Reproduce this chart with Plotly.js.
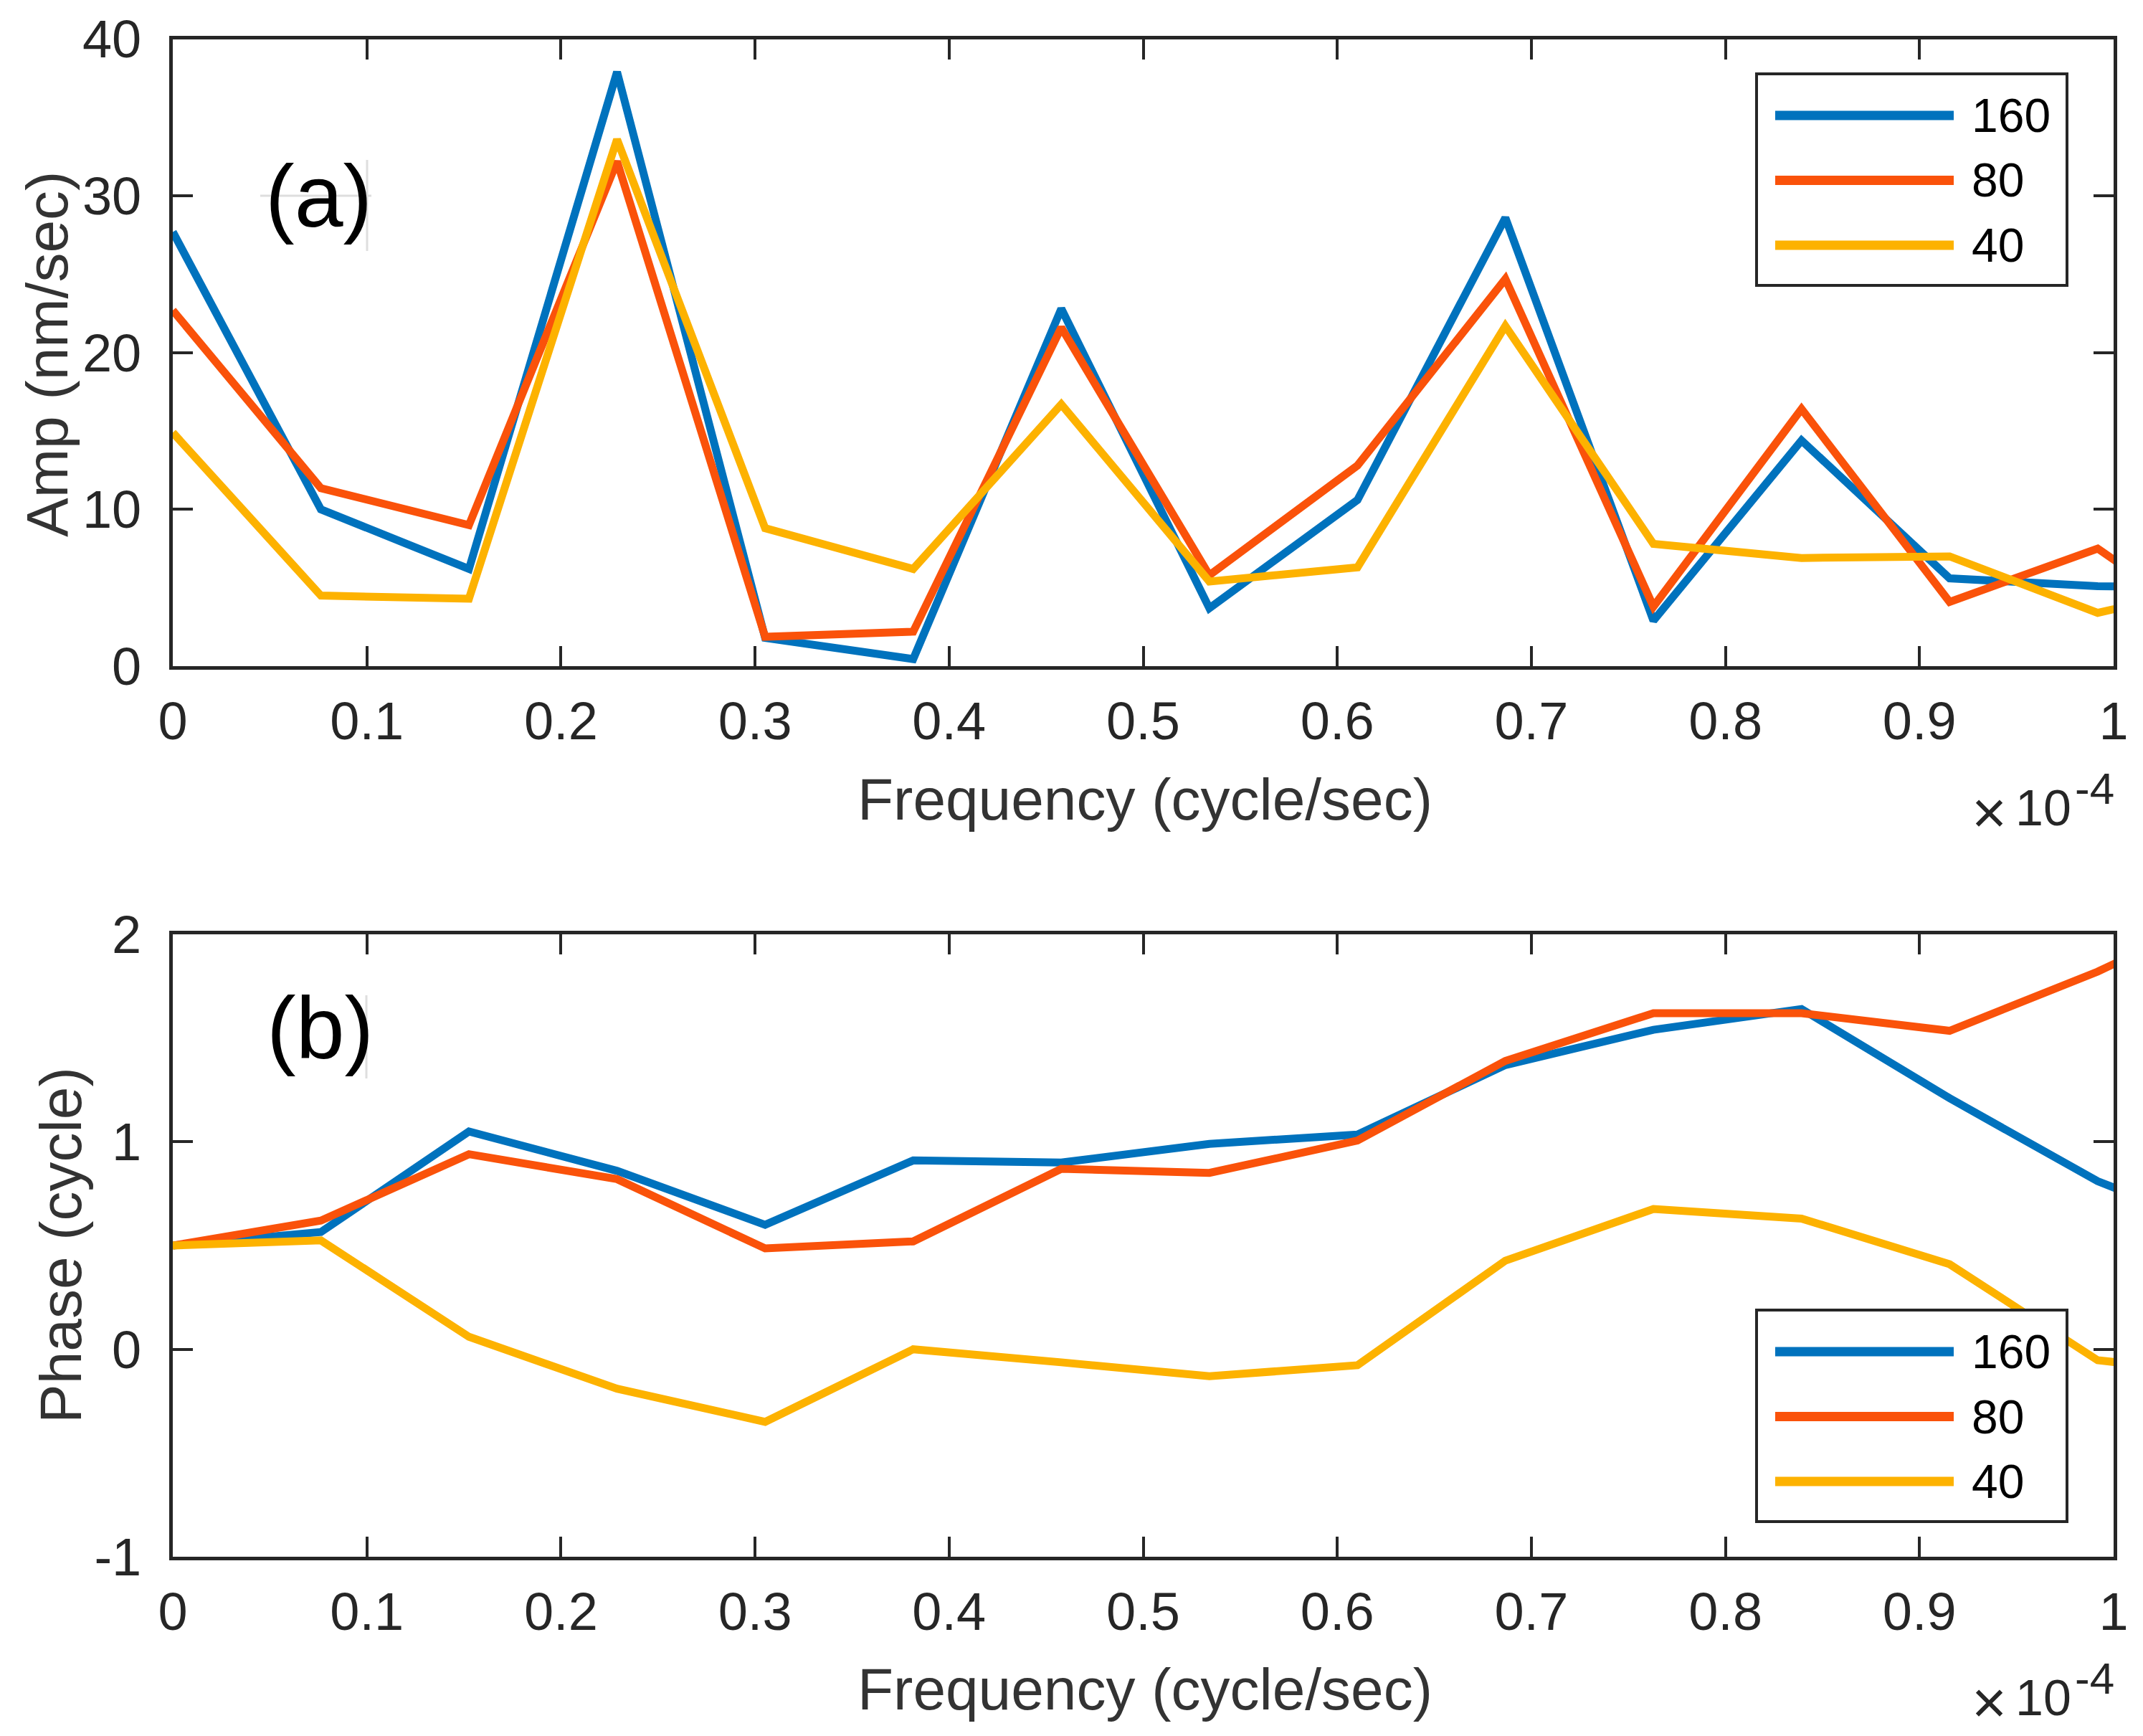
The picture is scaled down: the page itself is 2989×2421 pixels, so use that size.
<!DOCTYPE html>
<html>
<head>
<meta charset="utf-8">
<script src="https://cdn.plot.ly/plotly-3.0.1.min.js"></script>
<style>html,body{margin:0;padding:0;background:#fff;}#chart{width:2989px;height:2421px;}</style>
</head>
<body>
<div id="chart"></div>
<script>
// ---- data (frequency in units of 1e-4 cycle/sec) ----
const freq = [0, 0.0763, 0.1526, 0.2289, 0.3052, 0.3815, 0.4578, 0.5341, 0.6104, 0.6866, 0.7629, 0.8392, 0.9155, 0.9918, 1.0681];

const amp160 = [27.7, 10.0, 6.2, 37.9, 1.8, 0.45, 22.8, 3.7, 10.6, 28.6, 2.9, 14.4, 5.6, 5.1, 5.0];
const amp80  = [22.7, 11.35, 9.0, 32.2, 1.87, 2.2, 21.6, 5.8, 12.8, 24.7, 3.8, 16.4, 4.1, 7.5, 1.0];
const amp40  = [14.9, 4.5, 4.3, 33.6, 8.8, 6.2, 16.7, 5.4, 6.3, 21.7, 7.8, 6.9, 7.0, 3.4, 5.5];

const phase160 = [0.5, 0.565, 1.05, 0.86, 0.60, 0.91, 0.90, 0.99, 1.035, 1.37, 1.54, 1.64, 1.21, 0.81, 0.53];
const phase80  = [0.5, 0.62, 0.94, 0.82, 0.486, 0.52, 0.87, 0.85, 1.006, 1.39, 1.62, 1.62, 1.535, 1.82, 2.16];
const phase40  = [0.5, 0.525, 0.06, -0.19, -0.35, 0.0, -0.063, -0.13, -0.077, 0.427, 0.676, 0.63, 0.41, -0.053, -0.13];

const seriesNames = ['160', '80', '40'];
const xTickVals = [0, 0.1, 0.2, 0.3, 0.4, 0.5, 0.6, 0.7, 0.8, 0.9, 1];
const xTickText = ['0', '0.1', '0.2', '0.3', '0.4', '0.5', '0.6', '0.7', '0.8', '0.9', '1'];
const ampTickVals = [0, 10, 20, 30, 40];
const ampTickText = ['0', '10', '20', '30', '40'];
const phaseTickVals = [-1, 0, 1, 2];
const phaseTickText = ['-1', '0', '1', '2'];

// ---- styling ----
const W = 2989, H = 2421;
const px = v => v / W;
const py = v => 1 - v / H;
const colors = ['#0072BD', '#FA520A', '#FDB200'];
const FONT = 'Liberation Sans, Arial, Helvetica, sans-serif';
const AX = '#262626';
const LW = 11;

const ampSeries = [amp160, amp80, amp40];
const phaseSeries = [phase160, phase80, phase40];

const traces = [];
ampSeries.forEach((ys, i) => traces.push({
  x: freq, y: ys, type: 'scatter', mode: 'lines', name: seriesNames[i],
  line: {color: colors[i], width: LW}, xaxis: 'x', yaxis: 'y', showlegend: false, hoverinfo: 'skip'
}));
phaseSeries.forEach((ys, i) => traces.push({
  x: freq, y: ys, type: 'scatter', mode: 'lines', name: seriesNames[i],
  line: {color: colors[i], width: LW}, xaxis: 'x2', yaxis: 'y2', showlegend: false, hoverinfo: 'skip'
}));

const xDomain = [px(241), px(2948)];
const baseAxis = {
  showline: true, linecolor: AX, linewidth: 5, mirror: 'ticks',
  ticks: 'inside', ticklen: 28, tickwidth: 4, tickcolor: AX,
  showgrid: false, zeroline: false, fixedrange: true,
  tickfont: {family: FONT, size: 74, color: AX}
};
const xAxisCommon = Object.assign({}, baseAxis, {
  range: [0, 1], tickmode: 'array', tickvals: xTickVals, ticktext: xTickText,
  domain: xDomain, ticklabelstandoff: 8
});

// ---- legends, labels ----
const shapes = [];
const annotations = [];

function addLegend(boxTop) {
  shapes.push({type: 'rect', xref: 'paper', yref: 'paper',
    x0: px(2450), x1: px(2883), y0: py(boxTop), y1: py(boxTop + 295),
    fillcolor: '#ffffff', line: {color: AX, width: 4}, layer: 'above'});
  seriesNames.forEach((nm, i) => {
    const yy = boxTop + 58 + i * 90.5;
    shapes.push({type: 'line', xref: 'paper', yref: 'paper',
      x0: px(2476), x1: px(2725), y0: py(yy), y1: py(yy),
      line: {color: colors[i], width: 13}, layer: 'above'});
    annotations.push({xref: 'paper', yref: 'paper', x: px(2748), y: py(yy),
      xanchor: 'left', yanchor: 'middle', showarrow: false, text: nm,
      font: {family: FONT, size: 66, color: '#000'}});
  });
}
addLegend(103);
addLegend(1827);

// panel labels with faint guide lines (as in the source figure)
shapes.push({type: 'line', xref: 'paper', yref: 'paper', x0: px(363), x1: px(518), y0: py(273), y1: py(273), line: {color: '#dedede', width: 3}, layer: 'above'});
shapes.push({type: 'line', xref: 'paper', yref: 'paper', x0: px(512), x1: px(512), y0: py(223), y1: py(350), line: {color: '#dedede', width: 3}, layer: 'above'});
shapes.push({type: 'line', xref: 'paper', yref: 'paper', x0: px(511), x1: px(511), y0: py(1388), y1: py(1504), line: {color: '#dedede', width: 3}, layer: 'above'});

annotations.push({xref: 'paper', yref: 'paper', x: px(444), y: py(274), xanchor: 'center', yanchor: 'middle',
  showarrow: false, text: '(a)', font: {family: FONT, size: 122, color: '#000'}});
annotations.push({xref: 'paper', yref: 'paper', x: px(446), y: py(1434), xanchor: 'center', yanchor: 'middle',
  showarrow: false, text: '(b)', font: {family: FONT, size: 122, color: '#000'}});

// axis titles
const TITLE_FS = 82, TITLE_C = '#333333';
annotations.push({xref: 'paper', yref: 'paper', x: px(1597), y: py(1114), xanchor: 'center', yanchor: 'middle',
  showarrow: false, text: 'Frequency (cycle/sec)', font: {family: FONT, size: TITLE_FS, color: TITLE_C}});
annotations.push({xref: 'paper', yref: 'paper', x: px(1597), y: py(2355), xanchor: 'center', yanchor: 'middle',
  showarrow: false, text: 'Frequency (cycle/sec)', font: {family: FONT, size: TITLE_FS, color: TITLE_C}});
annotations.push({xref: 'paper', yref: 'paper', x: px(65), y: py(494), xanchor: 'center', yanchor: 'middle', textangle: -90,
  showarrow: false, text: 'Amp (nm/sec)', font: {family: FONT, size: TITLE_FS, color: TITLE_C}});
annotations.push({xref: 'paper', yref: 'paper', x: px(84), y: py(1737), xanchor: 'center', yanchor: 'middle', textangle: -90,
  showarrow: false, text: 'Phase (cycle)', font: {family: FONT, size: TITLE_FS, color: TITLE_C}});

// x 10^-4 multipliers
[1152, 2393].forEach(base => {
  annotations.push({xref: 'paper', yref: 'paper', x: px(2774), y: py(base - 19), xanchor: 'center', yanchor: 'middle',
    showarrow: false, text: '×', font: {family: FONT, size: 84, color: AX}});
  annotations.push({xref: 'paper', yref: 'paper', x: px(2891), y: py(base - 25), xanchor: 'right', yanchor: 'middle',
    showarrow: false, text: '10', font: {family: FONT, size: 70, color: AX}});
  annotations.push({xref: 'paper', yref: 'paper', x: px(2892), y: py(base - 31 - 22), xanchor: 'left', yanchor: 'middle',
    showarrow: false, text: '-4', font: {family: FONT, size: 62, color: AX}});
});

const layout = {
  width: W, height: H,
  margin: {l: 0, r: 0, t: 0, b: 0},
  paper_bgcolor: '#ffffff', plot_bgcolor: '#ffffff',
  showlegend: false,
  font: {family: FONT, color: AX},
  xaxis: Object.assign({}, xAxisCommon, {anchor: 'y'}),
  yaxis: Object.assign({}, baseAxis, {range: [0, 40], tickmode: 'array', tickvals: ampTickVals, ticktext: ampTickText,
    domain: [py(929), py(54.5)], anchor: 'x', ticklabelstandoff: 24}),
  xaxis2: Object.assign({}, xAxisCommon, {anchor: 'y2'}),
  yaxis2: Object.assign({}, baseAxis, {range: [-1, 2], tickmode: 'array', tickvals: phaseTickVals, ticktext: phaseTickText,
    domain: [py(2171), py(1303)], anchor: 'x2', ticklabelstandoff: 24}),
  shapes: shapes,
  annotations: annotations
};

Plotly.newPlot('chart', traces, layout, {staticPlot: true, displayModeBar: false});
</script>
</body>
</html>
